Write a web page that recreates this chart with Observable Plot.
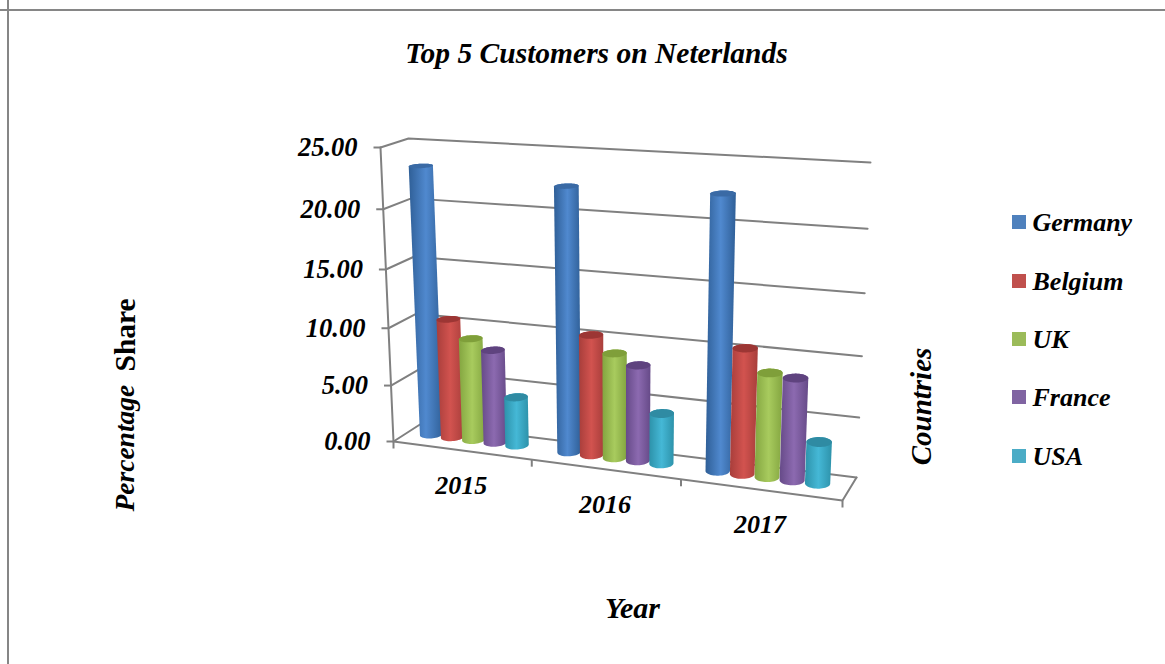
<!DOCTYPE html>
<html>
<head>
<meta charset="utf-8">
<style>
  html, body { margin: 0; padding: 0; background: #fff; }
  svg { display: block; }
</style>
<script src="https://cdn.jsdelivr.net/npm/d3@7"></script>
<script src="https://cdn.jsdelivr.net/npm/@observablehq/plot@0.6"></script>
</head>
<body>
<script>
// Share of Dutch exports by customer, per year
const years = ["2015", "2016", "2017"];
const countries = ["Germany", "Belgium", "UK", "France", "USA"];
const germany = [23.2, 22.3, 22.5];
const belgium = [10.45, 10.3, 10.45];
const uk = [8.95, 8.95, 8.65];
const france = [8.15, 8.15, 8.45];
const usa = [4.25, 4.3, 3.45];
const seriesValues = [germany, belgium, uk, france, usa];
const valueTicks = [0, 5, 10, 15, 20, 25];
const axisMax = 25;

// Colours per series: legend swatch, cylinder edge, cylinder highlight, cap
const swatch = ["#4f81bd", "#c0504d", "#9bbb59", "#8064a2", "#4bacc6"];
const edge = ["#2f5f97", "#a83e3b", "#83a540", "#664a88", "#2d92aa"];
const glow = ["#5089cf", "#d2534f", "#a8cb5e", "#8c6ab0", "#45b8d6"];
const cap = ["#3a6aa5", "#9c3634", "#7f9f3a", "#5f437f", "#2f8ba3"];

const serif = "Liberation Serif";
const grey = "#808080";

// Camera: the eight corners of the plot box on screen, front/back, left/right, floor/ceiling
const box = {
  floor: {front: [[393, 441], [842, 500]], back: [[421, 423], [856, 477]]},
  top: {front: [[380, 147], [856, 176]], back: [[408, 138], [870, 162]]}
};
const lerp = (a, b, k) => a + (b - a) * k;
const lerp2 = (a, b, k) => [lerp(a[0], b[0], k), lerp(a[1], b[1], k)];
const foreshorten = (k, c) => (k * (1 + c)) / (1 + c * k);

// p: position along the year axis (0..3), d: depth (0 front, 1 back), v: value
function project(p, d, v) {
  const t = foreshorten(p / years.length, -0.11);
  const s = foreshorten(v / axisMax, -0.06);
  const at = (level) =>
    lerp2(lerp2(level.front[0], level.front[1], t), lerp2(level.back[0], level.back[1], t), d);
  return lerp2(at(box.floor), at(box.top), s);
}

// Cylinder layout within a year slot
const firstBar = 0.17, barStep = 0.1575, radiusP = 0.075, radiusD = 0.22, midDepth = 0.56;

const circle = (p, v) =>
  d3.range(48).map((i) => {
    const a = (i / 48) * 2 * Math.PI;
    return project(p + radiusP * Math.cos(a), midDepth + radiusD * Math.sin(a), v);
  });

const cylinders = years.flatMap((year, y) =>
  countries.map((country, c) => {
    const p = y + firstBar + c * barStep;
    const value = seriesValues[c][y];
    return {
      c,
      body: d3.polygonHull([...circle(p, 0), ...circle(p, value)]),
      top: circle(p, value)
    };
  })
);

const xOf = (q) => q[0], yOf = (q) => q[1];

// Wall gridlines and box edges, each as a polyline of projected points
const wallLines = [
  ...valueTicks.map((v) => [project(0, 0, v), project(0, 1, v), project(years.length, 1, v)]),
  [project(0, 0, 0), project(0, 0, axisMax)],
  [project(0, 0, 0), project(years.length, 0, 0), project(years.length, 1, 0)]
].flatMap((pts, i) => pts.map((q) => ({i, x: q[0], y: q[1]})));

const valueTickRows = valueTicks.map((v) => {
  const q = project(0, 0, v);
  return {v, x: q[0], y: q[1]};
});
const slotTickRows = d3.range(years.length + 1).map((i) => {
  const q = project(i, 0, 0);
  return {x: q[0], y: q[1]};
});
const yearRows = years.map((year, i) => {
  const q = project(i + 0.5, 0, 0);
  return {year, x: q[0], y: q[1]};
});

// Horizontal shading that gives the bars their round look
function gradients() {
  const ns = "http://www.w3.org/2000/svg";
  const defs = document.createElementNS(ns, "defs");
  edge.forEach((col, i) => {
    const g = document.createElementNS(ns, "linearGradient");
    g.setAttribute("id", "cyl" + i);
    [[0, col], [0.5, glow[i]], [1, col]].forEach(([o, color]) => {
      const s = document.createElementNS(ns, "stop");
      s.setAttribute("offset", o);
      s.setAttribute("stop-color", color);
      g.appendChild(s);
    });
    defs.appendChild(g);
  });
  return defs;
}

const cylinderMarks = cylinders.flatMap((b) => [
  Plot.line(b.body, {x: xOf, y: yOf, fill: `url(#cyl${b.c})`, stroke: "none"}),
  Plot.line(b.top, {x: xOf, y: yOf, fill: cap[b.c], stroke: "none"})
]);

const label = {fontFamily: serif, fontWeight: "bold", fontStyle: "italic", fontSize: 26, fill: "#000", stroke: "none"};
const heading = {...label, fontSize: 29.5};

// Legend rows
const legendY = [222, 281, 339, 397, 456];
const legendRows = countries.map((name, i) => ({name, i, y: legendY[i]}));

const chart = Plot.plot({
  width: 1165,
  height: 664,
  margin: 0,
  style: {background: "#fff"},
  x: {domain: [0, 1165], range: [0, 1165], axis: null},
  y: {domain: [0, 664], range: [0, 664], axis: null},
  marks: [
    gradients,
    Plot.ruleX([7.5], {stroke: "#868686", strokeWidth: 2}),
    Plot.ruleY([9.5], {stroke: "#868686", strokeWidth: 2}),

    Plot.line(wallLines, {x: "x", y: "y", z: "i", stroke: grey, strokeWidth: 2, curve: "linear"}),
    Plot.link(valueTickRows, {x1: "x", y1: "y", x2: (d) => d.x - 7, y2: "y", stroke: grey, strokeWidth: 2}),
    Plot.link(slotTickRows, {x1: "x", y1: "y", x2: "x", y2: (d) => d.y + 7, stroke: grey, strokeWidth: 2}),

    ...cylinderMarks,

    Plot.text(valueTickRows, {...label, fontSize: 26.5, x: "x", y: "y", text: (d) => d.v.toFixed(2), textAnchor: "end", dx: -23}),
    Plot.text(yearRows, {...label, x: "x", y: "y", text: "year", dy: 35}),

    Plot.text(["Top 5 Customers on Neterlands"], {...heading, x: () => 596, y: () => 53, text: (d) => d}),
    Plot.text(["Year"], {...heading, fontSize: 30, x: () => 632, y: () => 608, text: (d) => d}),
    Plot.text(["Percentage"], {...heading, fontSize: 27.5, x: () => 125, y: () => 511, text: (d) => d, rotate: -90, textAnchor: "start"}),
    Plot.text(["Share"], {...heading, fontStyle: "normal", x: () => 125, y: () => 371, text: (d) => d, rotate: -90, textAnchor: "start"}),
    Plot.text(["Countries"], {...heading, fontSize: 29, x: () => 921, y: () => 406, text: (d) => d, rotate: -90}),

    Plot.rect(legendRows, {x1: () => 1012, x2: () => 1026, y1: (d) => d.y - 7, y2: (d) => d.y + 7, fill: (d) => swatch[d.i]}),
    Plot.text(legendRows, {...label, x: () => 1032, y: "y", text: "name", textAnchor: "start"})
  ]
});
document.body.appendChild(chart);
</script>
</body>
</html>
